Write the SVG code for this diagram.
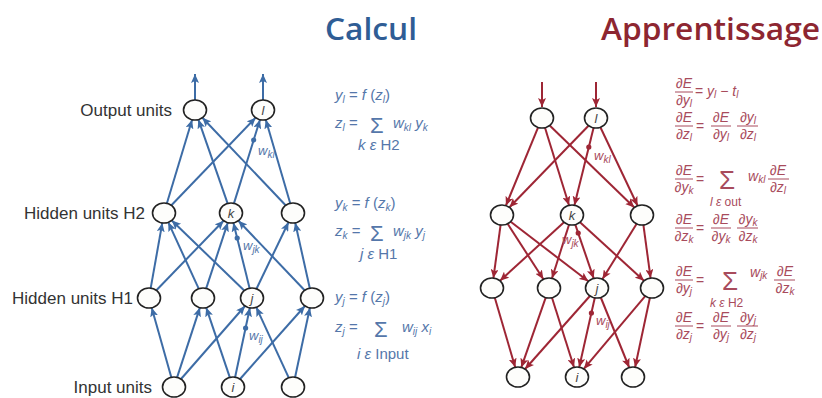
<svg xmlns="http://www.w3.org/2000/svg" width="822" height="398" viewBox="0 0 822 398">
<defs>
<marker id="ab" markerUnits="userSpaceOnUse" markerWidth="10" markerHeight="8" refX="9" refY="4" orient="auto"><path d="M0,0 L9,4 L0,8 L2,4 z" fill="#3d6ca6"/></marker>
<marker id="ar" markerUnits="userSpaceOnUse" markerWidth="10" markerHeight="8" refX="9" refY="4" orient="auto"><path d="M0,0 L9,4 L0,8 L2,4 z" fill="#9e2635"/></marker>
<style>
.nd{fill:#fdfdfb;stroke:#222;stroke-width:1.6}
.eb{stroke:#3d6ca6;stroke-width:2;fill:none;marker-end:url(#ab)}
.er{stroke:#9e2635;stroke-width:2;fill:none;marker-end:url(#ar)}
.nl{font-family:"Liberation Sans",Arial,sans-serif;font-size:13px;font-style:italic;fill:#444;text-anchor:middle}
.lb{font-family:"Liberation Sans",Arial,sans-serif;font-size:17px;fill:#333;text-anchor:end}
.eqb{font-family:"Liberation Sans",Arial,sans-serif;font-size:15px;fill:#5577aa}
.eqr{font-family:"Liberation Sans",Arial,sans-serif;font-size:14px;fill:#a84b5c}
.it{font-style:italic}
.sb{font-size:10px;font-style:italic}
.sig{font-size:22px}
.sigr{font-size:26px}
.fr{text-anchor:middle}
.bar{stroke:#a84b5c;stroke-width:1}
.wb{font-family:"Liberation Sans",Arial,sans-serif;font-size:13px;fill:#5577aa;font-style:italic}
.wr{font-family:"Liberation Sans",Arial,sans-serif;font-size:13px;fill:#a84b5c;font-style:italic}
.title{font-family:"Open Sans",Lato,sans-serif;font-size:31px;font-weight:600}
</style>
</defs>
<rect width="822" height="398" fill="#ffffff"/>
<text class="title" x="325" y="40" fill="#2f5d95" textLength="92" lengthAdjust="spacingAndGlyphs">Calcul</text>
<text class="title" x="601" y="40" fill="#8d2631" textLength="219" lengthAdjust="spacingAndGlyphs">Apprentissage</text>
<g id="labels">
<text class="lb" x="172" y="116">Output units</text>
<text class="lb" x="145" y="219">Hidden units H2</text>
<text class="lb" x="133" y="304">Hidden units H1</text>
<text class="lb" x="152" y="393">Input units</text>
</g>
<g id="connectors-calcul">
<line class="eb" x1="171.3" y1="377.3" x2="151.7" y2="307.7"/>
<line class="eb" x1="177.1" y1="377.4" x2="199.9" y2="307.6"/>
<line class="eb" x1="181" y1="379" x2="245" y2="306"/>
<line class="eb" x1="229.8" y1="377.4" x2="206.2" y2="307.6"/>
<line class="eb" x1="235.1" y1="377.2" x2="249.9" y2="307.8"/>
<line class="eb" x1="240.1" y1="379" x2="304.9" y2="306"/>
<line class="eb" x1="288.7" y1="377.7" x2="256.3" y2="307.3"/>
<line class="eb" x1="295.1" y1="377.2" x2="309.9" y2="307.8"/>
<line class="eb" x1="150.7" y1="288.1" x2="162.3" y2="222.9"/>
<line class="eb" x1="156.4" y1="290.3" x2="223.6" y2="220.7"/>
<line class="eb" x1="198.7" y1="288.7" x2="168.3" y2="222.3"/>
<line class="eb" x1="206.2" y1="288.4" x2="227.8" y2="222.6"/>
<line class="eb" x1="244.2" y1="290.5" x2="171.8" y2="220.5"/>
<line class="eb" x1="249.6" y1="288.2" x2="233.4" y2="222.8"/>
<line class="eb" x1="256.5" y1="288.7" x2="288.5" y2="222.3"/>
<line class="eb" x1="304.6" y1="290.3" x2="238.4" y2="220.7"/>
<line class="eb" x1="309.8" y1="288.2" x2="295.2" y2="222.8"/>
<line class="eb" x1="166.9" y1="203.3" x2="192.1" y2="119.7"/>
<line class="eb" x1="171.4" y1="205.3" x2="255.6" y2="117.7"/>
<line class="eb" x1="227.6" y1="203.4" x2="198.4" y2="119.6"/>
<line class="eb" x1="234" y1="203.3" x2="260" y2="119.7"/>
<line class="eb" x1="285.6" y1="205.3" x2="202.4" y2="117.7"/>
<line class="eb" x1="290.2" y1="203.3" x2="265.8" y2="119.7"/>
<line class="eb" x1="195" y1="100" x2="195" y2="74"/>
<line class="eb" x1="263" y1="100" x2="263" y2="74"/>
<circle cx="253.7" cy="140" r="2.6" fill="#3d6ca6"/>
<circle cx="237.2" cy="238" r="2.6" fill="#3d6ca6"/>
<circle cx="245.6" cy="328" r="2.6" fill="#3d6ca6"/>
<text class="wb" x="258" y="155">w<tspan class="sb" dy="3">kl</tspan></text>
<text class="wb" x="243" y="250">w<tspan class="sb" dy="3">jk</tspan></text>
<text class="wb" x="249" y="340">w<tspan class="sb" dy="3">ij</tspan></text>
</g>
<g id="c-out1"><ellipse class="nd" cx="195" cy="110" rx="11.5" ry="10"/></g>
<g id="c-out-l"><ellipse class="nd" cx="263" cy="110" rx="11.5" ry="10"/><text class="nl" x="263" y="115">l</text></g>
<g id="c-h2a"><ellipse class="nd" cx="164" cy="213" rx="11.5" ry="10"/></g>
<g id="c-h2-k"><ellipse class="nd" cx="231" cy="213" rx="11.5" ry="10"/><text class="nl" x="231" y="218">k</text></g>
<g id="c-h2c"><ellipse class="nd" cx="293" cy="213" rx="11.5" ry="10"/></g>
<g id="c-h1a"><ellipse class="nd" cx="149" cy="298" rx="11.5" ry="10"/></g>
<g id="c-h1b"><ellipse class="nd" cx="203" cy="298" rx="11.5" ry="10"/></g>
<g id="c-h1-j"><ellipse class="nd" cx="252" cy="298" rx="11.5" ry="10"/><text class="nl" x="252" y="303">j</text></g>
<g id="c-h1d"><ellipse class="nd" cx="312" cy="298" rx="11.5" ry="10"/></g>
<g id="c-in1"><ellipse class="nd" cx="174" cy="387" rx="11.5" ry="10"/></g>
<g id="c-in-i"><ellipse class="nd" cx="233" cy="387" rx="11.5" ry="10"/><text class="nl" x="233" y="392">i</text></g>
<g id="c-in3"><ellipse class="nd" cx="293" cy="387" rx="11.5" ry="10"/></g>
<g id="eq-calcul" class="eqb">
<text x="335" y="100"><tspan class="it">y</tspan><tspan class="sb" dy="3">l</tspan><tspan dy="-3"> = </tspan><tspan class="it">f</tspan> (<tspan class="it">z</tspan><tspan class="sb" dy="3">l</tspan><tspan dy="-3">)</tspan></text>
<text x="335" y="128"><tspan class="it">z</tspan><tspan class="sb" dy="3">l</tspan><tspan dy="-3"> =</tspan></text>
<text x="370" y="133" class="sig">Σ</text>
<text x="393" y="128"><tspan class="it">w</tspan><tspan class="sb" dy="3">kl</tspan><tspan class="it" dy="-3"> y</tspan><tspan class="sb" dy="3">k</tspan></text>
<text x="358" y="150"><tspan class="it">k ε</tspan> H2</text>
<text x="335" y="208"><tspan class="it">y</tspan><tspan class="sb" dy="3">k</tspan><tspan dy="-3"> = </tspan><tspan class="it">f</tspan> (<tspan class="it">z</tspan><tspan class="sb" dy="3">k</tspan><tspan dy="-3">)</tspan></text>
<text x="335" y="236"><tspan class="it">z</tspan><tspan class="sb" dy="3">k</tspan><tspan dy="-3"> =</tspan></text>
<text x="370" y="241" class="sig">Σ</text>
<text x="393" y="236"><tspan class="it">w</tspan><tspan class="sb" dy="3">jk</tspan><tspan class="it" dy="-3"> y</tspan><tspan class="sb" dy="3">j</tspan></text>
<text x="360" y="259"><tspan class="it">j ε</tspan> H1</text>
<text x="335" y="302"><tspan class="it">y</tspan><tspan class="sb" dy="3">j</tspan><tspan dy="-3"> = </tspan><tspan class="it">f</tspan> (<tspan class="it">z</tspan><tspan class="sb" dy="3">j</tspan><tspan dy="-3">)</tspan></text>
<text x="335" y="332"><tspan class="it">z</tspan><tspan class="sb" dy="3">j</tspan><tspan dy="-3"> =</tspan></text>
<text x="374" y="337" class="sig">Σ</text>
<text x="402" y="332"><tspan class="it">w</tspan><tspan class="sb" dy="3">ij</tspan><tspan class="it" dy="-3"> x</tspan><tspan class="sb" dy="3">i</tspan></text>
<text x="357" y="359"><tspan class="it">i ε</tspan> Input</text>
</g>
<g id="connectors-apprentissage">
<line class="er" x1="542" y1="82" x2="542" y2="107"/>
<line class="er" x1="596" y1="82" x2="596" y2="107"/>
<line class="er" x1="538.1" y1="127.4" x2="505.9" y2="205.6"/>
<line class="er" x1="545" y1="127.7" x2="569" y2="205.3"/>
<line class="er" x1="549.7" y1="125.5" x2="634.3" y2="207.5"/>
<line class="er" x1="588.5" y1="125.7" x2="509.5" y2="207.3"/>
<line class="er" x1="593.6" y1="127.8" x2="574.4" y2="205.2"/>
<line class="er" x1="600.4" y1="127.3" x2="637.6" y2="205.7"/>
<line class="er" x1="500.6" y1="224.9" x2="493.4" y2="278.1"/>
<line class="er" x1="507.6" y1="223.8" x2="543.4" y2="279.2"/>
<line class="er" x1="510.7" y1="221.7" x2="588.3" y2="281.3"/>
<line class="er" x1="564" y1="222.3" x2="500" y2="280.7"/>
<line class="er" x1="569" y1="224.7" x2="552" y2="278.3"/>
<line class="er" x1="575.3" y1="224.6" x2="593.7" y2="278.4"/>
<line class="er" x1="580" y1="222.3" x2="644" y2="280.7"/>
<line class="er" x1="636.5" y1="223.9" x2="602.5" y2="279.1"/>
<line class="er" x1="643.4" y1="224.9" x2="650.6" y2="278.1"/>
<line class="er" x1="494.8" y1="297.7" x2="515.2" y2="367.3"/>
<line class="er" x1="545.7" y1="297.6" x2="521.3" y2="367.4"/>
<line class="er" x1="552" y1="297.7" x2="574" y2="367.3"/>
<line class="er" x1="589.9" y1="296" x2="525.1" y2="369"/>
<line class="er" x1="594.8" y1="297.8" x2="579.2" y2="367.2"/>
<line class="er" x1="600.8" y1="297.5" x2="629.2" y2="367.5"/>
<line class="er" x1="645.2" y1="296.1" x2="583.8" y2="368.9"/>
<line class="er" x1="649.9" y1="297.8" x2="635.1" y2="367.2"/>
<circle cx="588.8" cy="147" r="2.6" fill="#9e2635"/>
<circle cx="578.2" cy="233" r="2.6" fill="#9e2635"/>
<circle cx="591.4" cy="313" r="2.6" fill="#9e2635"/>
<text class="wr" x="594" y="160">w<tspan class="sb" dy="3">kl</tspan></text>
<text class="wr" x="562" y="244">w<tspan class="sb" dy="3">jk</tspan></text>
<text class="wr" x="596" y="325">w<tspan class="sb" dy="3">ij</tspan></text>
</g>
<g id="a-top1"><ellipse class="nd" cx="542" cy="118" rx="11.5" ry="10"/></g>
<g id="a-top-l"><ellipse class="nd" cx="596" cy="118" rx="11.5" ry="10"/><text class="nl" x="596" y="123">l</text></g>
<g id="a-h2a"><ellipse class="nd" cx="502" cy="215" rx="11.5" ry="10"/></g>
<g id="a-h2-k"><ellipse class="nd" cx="572" cy="215" rx="11.5" ry="10"/><text class="nl" x="572" y="220">k</text></g>
<g id="a-h2c"><ellipse class="nd" cx="642" cy="215" rx="11.5" ry="10"/></g>
<g id="a-h1a"><ellipse class="nd" cx="492" cy="288" rx="11.5" ry="10"/></g>
<g id="a-h1b"><ellipse class="nd" cx="549" cy="288" rx="11.5" ry="10"/></g>
<g id="a-h1-j"><ellipse class="nd" cx="597" cy="288" rx="11.5" ry="10"/><text class="nl" x="597" y="293">j</text></g>
<g id="a-h1d"><ellipse class="nd" cx="652" cy="288" rx="11.5" ry="10"/></g>
<g id="a-in1"><ellipse class="nd" cx="518" cy="377" rx="11.5" ry="10"/></g>
<g id="a-in-i"><ellipse class="nd" cx="577" cy="377" rx="11.5" ry="10"/><text class="nl" x="577" y="382">i</text></g>
<g id="a-in3"><ellipse class="nd" cx="633" cy="377" rx="11.5" ry="10"/></g>
<g id="eq-apprentissage" class="eqr">
<text class="fr" x="684" y="88">∂<tspan class="it">E</tspan></text>
<line class="bar" x1="675" y1="92" x2="693" y2="92"/>
<text class="fr" x="684" y="105">∂<tspan class="it">y</tspan><tspan class="sb" dy="2">l</tspan></text>
<text x="695" y="96">= <tspan class="it">y</tspan><tspan class="sb" dy="2">l</tspan><tspan dy="-2"> − </tspan><tspan class="it">t</tspan><tspan class="sb" dy="2">l</tspan></text>
<text class="fr" x="684" y="122">∂<tspan class="it">E</tspan></text>
<line class="bar" x1="675" y1="126" x2="693" y2="126"/>
<text class="fr" x="684" y="139">∂<tspan class="it">z</tspan><tspan class="sb" dy="2">l</tspan></text>
<text x="696" y="131">=</text>
<text class="fr" x="721" y="122">∂<tspan class="it">E</tspan></text>
<line class="bar" x1="711" y1="126" x2="731" y2="126"/>
<text class="fr" x="721" y="139">∂<tspan class="it">y</tspan><tspan class="sb" dy="2">l</tspan></text>
<text class="fr" x="748" y="122">∂<tspan class="it">y</tspan><tspan class="sb" dy="2">l</tspan></text>
<line class="bar" x1="737" y1="126" x2="758" y2="126"/>
<text class="fr" x="748" y="139">∂<tspan class="it">z</tspan><tspan class="sb" dy="2">l</tspan></text>
<text class="fr" x="684" y="175">∂<tspan class="it">E</tspan></text>
<line class="bar" x1="675" y1="179" x2="693" y2="179"/>
<text class="fr" x="684" y="192">∂<tspan class="it">y</tspan><tspan class="sb" dy="2">k</tspan></text>
<text x="696" y="184">=</text>
<text x="719" y="189" class="sigr">Σ</text>
<text x="710" y="206" font-size="12"><tspan class="it">l ε</tspan> out</text>
<text x="748" y="181"><tspan class="it">w</tspan><tspan class="sb" dy="2">kl</tspan></text>
<text class="fr" x="778" y="175">∂<tspan class="it">E</tspan></text>
<line class="bar" x1="768" y1="179" x2="789" y2="179"/>
<text class="fr" x="778" y="192">∂<tspan class="it">z</tspan><tspan class="sb" dy="2">l</tspan></text>
<text class="fr" x="684" y="224">∂<tspan class="it">E</tspan></text>
<line class="bar" x1="675" y1="228" x2="693" y2="228"/>
<text class="fr" x="684" y="241">∂<tspan class="it">z</tspan><tspan class="sb" dy="2">k</tspan></text>
<text x="696" y="233">=</text>
<text class="fr" x="721" y="224">∂<tspan class="it">E</tspan></text>
<line class="bar" x1="711" y1="228" x2="731" y2="228"/>
<text class="fr" x="721" y="241">∂<tspan class="it">y</tspan><tspan class="sb" dy="2">k</tspan></text>
<text class="fr" x="748" y="224">∂<tspan class="it">y</tspan><tspan class="sb" dy="2">k</tspan></text>
<line class="bar" x1="737" y1="228" x2="758" y2="228"/>
<text class="fr" x="748" y="241">∂<tspan class="it">z</tspan><tspan class="sb" dy="2">k</tspan></text>
<text class="fr" x="684" y="276">∂<tspan class="it">E</tspan></text>
<line class="bar" x1="675" y1="280" x2="693" y2="280"/>
<text class="fr" x="684" y="293">∂<tspan class="it">y</tspan><tspan class="sb" dy="2">j</tspan></text>
<text x="696" y="285">=</text>
<text x="722" y="290" class="sigr">Σ</text>
<text x="710" y="307" font-size="12"><tspan class="it">k ε</tspan> H2</text>
<text x="750" y="277"><tspan class="it">w</tspan><tspan class="sb" dy="2">jk</tspan></text>
<text class="fr" x="785" y="276">∂<tspan class="it">E</tspan></text>
<line class="bar" x1="774" y1="280" x2="795" y2="280"/>
<text class="fr" x="785" y="293">∂<tspan class="it">z</tspan><tspan class="sb" dy="2">k</tspan></text>
<text class="fr" x="684" y="322">∂<tspan class="it">E</tspan></text>
<line class="bar" x1="675" y1="326" x2="693" y2="326"/>
<text class="fr" x="684" y="339">∂<tspan class="it">z</tspan><tspan class="sb" dy="2">j</tspan></text>
<text x="696" y="331">=</text>
<text class="fr" x="721" y="322">∂<tspan class="it">E</tspan></text>
<line class="bar" x1="711" y1="326" x2="731" y2="326"/>
<text class="fr" x="721" y="339">∂<tspan class="it">y</tspan><tspan class="sb" dy="2">j</tspan></text>
<text class="fr" x="748" y="322">∂<tspan class="it">y</tspan><tspan class="sb" dy="2">j</tspan></text>
<line class="bar" x1="737" y1="326" x2="758" y2="326"/>
<text class="fr" x="748" y="339">∂<tspan class="it">z</tspan><tspan class="sb" dy="2">j</tspan></text>
</g>
</svg>
